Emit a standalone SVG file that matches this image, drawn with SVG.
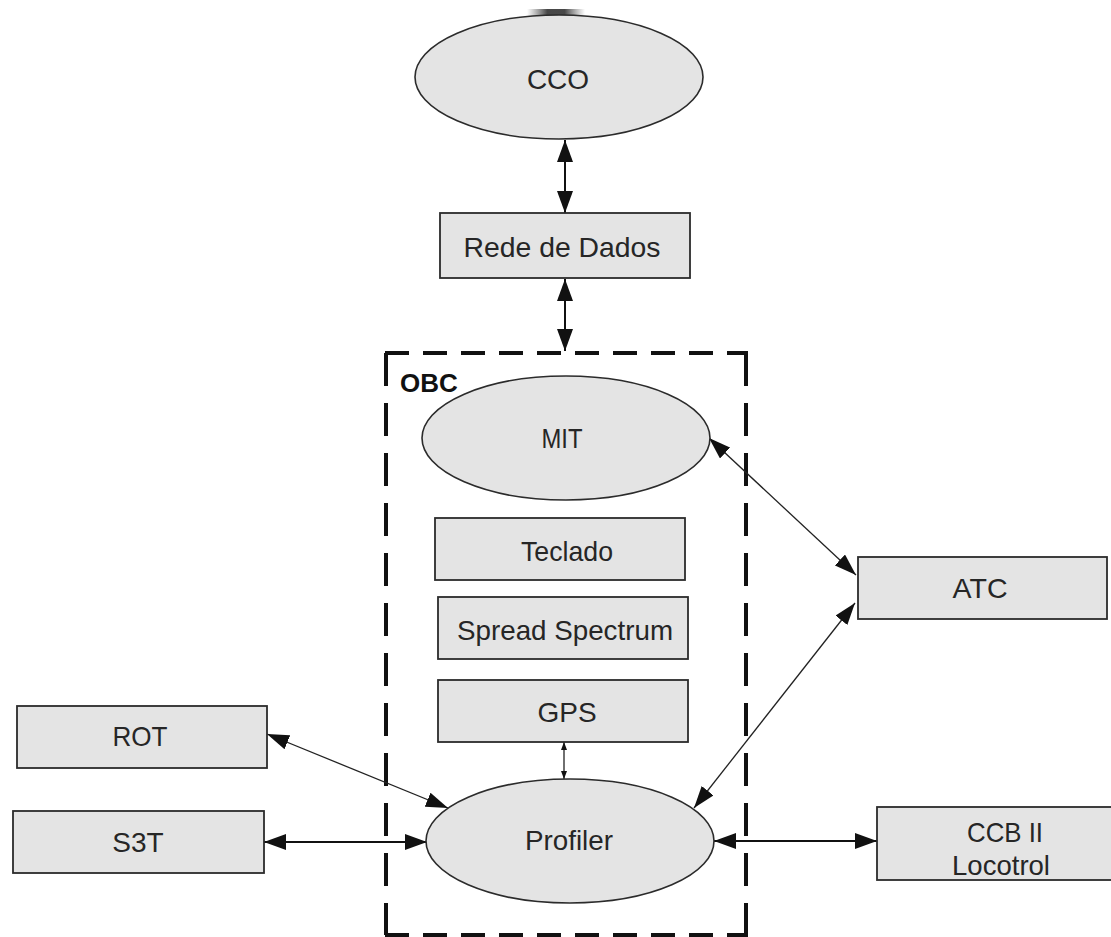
<svg xmlns="http://www.w3.org/2000/svg" width="1111" height="937" viewBox="0 0 1111 937">
<style>
.box{fill:#e4e4e4;stroke:#2b2b2b;stroke-width:1.8}
.ell{fill:#e4e4e4;stroke:#2b2b2b;stroke-width:1.6}
.lbl{font-family:"Liberation Sans",Arial,sans-serif;font-size:28px;fill:#262626;text-anchor:middle}
.obc{font-family:"Liberation Sans",Arial,sans-serif;font-size:26px;font-weight:bold;fill:#111}
.dh{stroke:#111;stroke-width:4;stroke-dasharray:24 14;fill:none}
.dv{stroke:#111;stroke-width:4;stroke-dasharray:33 17;fill:none}
.thick{stroke:#111;stroke-width:2;fill:none}
.thin{stroke:#222;stroke-width:1.3;fill:none}
</style>
<defs>
<marker id="big" viewBox="0 0 22 16" refX="22" refY="8" markerWidth="22" markerHeight="16" markerUnits="userSpaceOnUse" orient="auto-start-reverse">
<path d="M0,0 L22,8 L0,16 z" fill="#111"/>
</marker>
<marker id="med" viewBox="0 0 22 15" refX="22" refY="7.5" markerWidth="22" markerHeight="15" markerUnits="userSpaceOnUse" orient="auto-start-reverse">
<path d="M0,0 L22,7.5 L0,15 z" fill="#111"/>
</marker>
<marker id="small" viewBox="0 0 8 6" refX="8" refY="3" markerWidth="8" markerHeight="6" markerUnits="userSpaceOnUse" orient="auto-start-reverse">
<path d="M0,0 L8,3 L0,6 z" fill="#111"/>
</marker>
<linearGradient id="blob" x1="0" y1="0" x2="1" y2="0">
<stop offset="0" stop-color="#555" stop-opacity="0"/>
<stop offset="0.35" stop-color="#333" stop-opacity="0.9"/>
<stop offset="0.65" stop-color="#333" stop-opacity="0.9"/>
<stop offset="1" stop-color="#555" stop-opacity="0"/>
</linearGradient>
</defs>
<rect x="0" y="0" width="1111" height="937" fill="#ffffff"/>
<rect x="527" y="9" width="58" height="8" fill="url(#blob)"/>

<g id="obc">
<line class="dh" x1="385" y1="353" x2="748" y2="353"/>
<line class="dh" x1="385" y1="935" x2="748" y2="935"/>
<line class="dv" x1="386" y1="353" x2="386" y2="935"/>
<line class="dv" x1="746" y1="353" x2="746" y2="935"/>
<text class="obc" x="400" y="392">OBC</text>
</g>

<g id="connectors">
<line class="thick" x1="565" y1="140" x2="565" y2="213" marker-start="url(#big)" marker-end="url(#big)"/>
<line class="thick" x1="565" y1="279" x2="565" y2="351" marker-start="url(#big)" marker-end="url(#big)"/>
<line class="thin" x1="709" y1="438" x2="856" y2="575" marker-start="url(#med)" marker-end="url(#med)"/>
<line class="thin" x1="694" y1="808" x2="855" y2="603" marker-start="url(#med)" marker-end="url(#med)"/>
<line class="thin" x1="267" y1="734" x2="448" y2="808" marker-start="url(#med)" marker-end="url(#med)"/>
<line class="thick" x1="264" y1="842" x2="427" y2="842" marker-start="url(#big)" marker-end="url(#big)"/>
<line class="thick" x1="714" y1="841" x2="877" y2="841" marker-start="url(#big)" marker-end="url(#big)"/>
<line class="thin" x1="564" y1="742" x2="564" y2="779" marker-start="url(#small)" marker-end="url(#small)"/>
</g>

<g id="cco">
<ellipse class="ell" cx="559" cy="77" rx="144" ry="62"/>
<text class="lbl" x="558" y="89">CCO</text>
</g>
<g id="rede">
<rect class="box" x="440" y="213" width="250" height="65"/>
<text class="lbl" x="562" y="257" textLength="197" lengthAdjust="spacingAndGlyphs">Rede de Dados</text>
</g>
<g id="mit">
<ellipse class="ell" cx="566" cy="438" rx="144" ry="62"/>
<text class="lbl" x="562" y="448" textLength="41" lengthAdjust="spacingAndGlyphs">MIT</text>
</g>
<g id="teclado">
<rect class="box" x="435" y="518" width="250" height="62"/>
<text class="lbl" x="567" y="561" textLength="92" lengthAdjust="spacingAndGlyphs">Teclado</text>
</g>
<g id="spread">
<rect class="box" x="438" y="597" width="250" height="62"/>
<text class="lbl" x="565" y="640" textLength="216" lengthAdjust="spacingAndGlyphs">Spread Spectrum</text>
</g>
<g id="gps">
<rect class="box" x="438" y="680" width="250" height="62"/>
<text class="lbl" x="567" y="722">GPS</text>
</g>
<g id="profiler">
<ellipse class="ell" cx="570" cy="841" rx="144" ry="62"/>
<text class="lbl" x="569" y="850" textLength="88" lengthAdjust="spacingAndGlyphs">Profiler</text>
</g>
<g id="atc">
<rect class="box" x="858" y="557" width="249" height="62"/>
<text class="lbl" x="980" y="598" textLength="55" lengthAdjust="spacingAndGlyphs">ATC</text>
</g>
<g id="rot">
<rect class="box" x="17" y="706" width="250" height="62"/>
<text class="lbl" x="140" y="746" textLength="55" lengthAdjust="spacingAndGlyphs">ROT</text>
</g>
<g id="s3t">
<rect class="box" x="13" y="811" width="251" height="62"/>
<text class="lbl" x="138" y="852">S3T</text>
</g>
<g id="ccb">
<rect class="box" x="877" y="807" width="240" height="73"/>
<text class="lbl" x="1005" y="842" textLength="76" lengthAdjust="spacingAndGlyphs">CCB II</text>
<text class="lbl" x="1001" y="875" textLength="98" lengthAdjust="spacingAndGlyphs">Locotrol</text>
</g>
</svg>
